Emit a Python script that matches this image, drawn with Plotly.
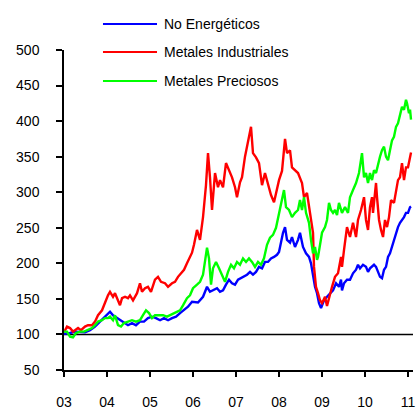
import plotly.graph_objects as go

# ---- data (decimal years) ----
red_t = [2003.000, 2003.070, 2003.140, 2003.209, 2003.256, 2003.326, 2003.395, 2003.488, 2003.558, 2003.651,
         2003.721, 2003.791, 2003.884, 2003.953, 2004.023, 2004.070, 2004.140, 2004.186, 2004.256, 2004.302,
         2004.349, 2004.419, 2004.488, 2004.535, 2004.605, 2004.698, 2004.767, 2004.814, 2004.884, 2004.953,
         2005.023, 2005.116, 2005.186, 2005.256, 2005.349, 2005.419, 2005.512, 2005.581, 2005.651, 2005.721,
         2005.791, 2005.860, 2005.930, 2005.977, 2006.023, 2006.093, 2006.163, 2006.233, 2006.302, 2006.349,
         2006.395, 2006.442, 2006.512, 2006.581, 2006.628, 2006.698, 2006.767, 2006.837, 2006.907, 2006.977,
         2007.023, 2007.093, 2007.140, 2007.209, 2007.279, 2007.349, 2007.395, 2007.465, 2007.535, 2007.605,
         2007.674, 2007.744, 2007.814, 2007.884, 2007.930, 2008.000, 2008.070, 2008.140, 2008.186, 2008.256,
         2008.302, 2008.372, 2008.442, 2008.535, 2008.581, 2008.651, 2008.698, 2008.744, 2008.791, 2008.814,
         2008.860, 2008.907, 2008.953, 2009.000, 2009.070, 2009.116, 2009.186, 2009.233, 2009.302, 2009.372,
         2009.442, 2009.465, 2009.512, 2009.581, 2009.651, 2009.721, 2009.791, 2009.837, 2009.907, 2009.977,
         2010.023, 2010.070, 2010.116, 2010.163, 2010.186, 2010.233, 2010.256, 2010.279, 2010.326, 2010.372,
         2010.419, 2010.465, 2010.512, 2010.558, 2010.605, 2010.674, 2010.721, 2010.767, 2010.814, 2010.860,
         2010.907, 2010.953, 2011.000, 2011.047, 2011.070]
red_v = [103, 111, 109, 104, 106, 109, 106, 111, 113, 113,
         118, 127, 134, 146, 155, 160, 153, 158, 146, 141,
         151, 153, 151, 155, 148, 158, 172, 160, 165, 167,
         160, 177, 181, 174, 172, 167, 172, 174, 181, 186,
         191, 200, 209, 215, 226, 247, 233, 265, 310, 355,
         321, 275, 327, 307, 317, 307, 341, 331, 321, 307,
         293, 314, 321, 350, 369, 392, 355, 349, 341, 310,
         327, 310, 296, 286, 299, 317, 330, 375, 355, 359,
         335, 331, 327, 313, 293, 299, 279, 261, 243, 195,
         167, 158, 148, 144, 153, 140, 158, 167, 181, 186,
         209, 195, 219, 251, 237, 257, 237, 261, 275, 293,
         261, 247, 279, 293, 271, 307, 313, 293, 261, 247,
         237, 261, 251, 265, 289, 285, 303, 317, 321, 341,
         317, 335, 335, 349, 356]

green_t = [2003.000, 2003.070, 2003.140, 2003.209, 2003.279, 2003.372, 2003.465, 2003.558, 2003.651, 2003.721,
           2003.791, 2003.884, 2003.953, 2004.023, 2004.070, 2004.140, 2004.186, 2004.256, 2004.326, 2004.395,
           2004.488, 2004.581, 2004.674, 2004.767, 2004.837, 2004.907, 2004.977, 2005.047, 2005.116, 2005.209,
           2005.302, 2005.395, 2005.465, 2005.535, 2005.605, 2005.698, 2005.767, 2005.860, 2005.930, 2006.000,
           2006.093, 2006.163, 2006.233, 2006.279, 2006.326, 2006.372, 2006.419, 2006.465, 2006.535, 2006.605,
           2006.674, 2006.744, 2006.814, 2006.884, 2006.953, 2007.023, 2007.093, 2007.163, 2007.233, 2007.302,
           2007.372, 2007.442, 2007.512, 2007.581, 2007.651, 2007.721, 2007.791, 2007.860, 2007.930, 2008.023,
           2008.093, 2008.116, 2008.163, 2008.233, 2008.302, 2008.372, 2008.442, 2008.488, 2008.535, 2008.581,
           2008.628, 2008.698, 2008.744, 2008.791, 2008.837, 2008.884, 2008.907, 2008.953, 2009.000, 2009.070,
           2009.116, 2009.163, 2009.209, 2009.256, 2009.302, 2009.349, 2009.395, 2009.465, 2009.535, 2009.605,
           2009.651, 2009.721, 2009.791, 2009.860, 2009.907, 2009.930, 2009.977, 2010.023, 2010.070, 2010.116,
           2010.163, 2010.209, 2010.256, 2010.302, 2010.349, 2010.395, 2010.442, 2010.488, 2010.535, 2010.581,
           2010.628, 2010.674, 2010.721, 2010.767, 2010.814, 2010.860, 2010.907, 2010.953, 2010.977, 2011.023,
           2011.047, 2011.070]
green_v = [104, 104, 97, 96, 102, 104, 104, 106, 109, 113,
           118, 120, 123, 123, 125, 120, 127, 113, 111, 116,
           118, 120, 118, 120, 127, 134, 130, 123, 127, 127,
           127, 125, 127, 130, 132, 134, 141, 151, 155, 165,
           170, 174, 184, 207, 222, 207, 170, 193, 202, 193,
           184, 174, 188, 198, 193, 202, 198, 207, 202, 207,
           202, 195, 202, 198, 207, 226, 236, 240, 250, 275,
           293, 303, 279, 275, 265, 271, 275, 289, 275, 293,
           271, 257, 233, 214, 223, 205, 209, 229, 243, 251,
           261, 285, 275, 271, 275, 268, 285, 271, 279, 271,
           293, 303, 313, 327, 350, 355, 321, 327, 313, 327,
           317, 331, 327, 341, 350, 359, 364, 350, 345, 359,
           373, 378, 392, 397, 411, 420, 416, 430, 425, 411,
           416, 402]

blue_t = [2003.000, 2003.140, 2003.256, 2003.372, 2003.488, 2003.605, 2003.721, 2003.837, 2003.953, 2004.023,
          2004.070, 2004.140, 2004.233, 2004.302, 2004.395, 2004.488, 2004.581, 2004.674, 2004.767, 2004.860,
          2004.953, 2005.047, 2005.140, 2005.233, 2005.326, 2005.419, 2005.512, 2005.605, 2005.698, 2005.791,
          2005.884, 2005.977, 2006.116, 2006.233, 2006.326, 2006.395, 2006.465, 2006.558, 2006.628, 2006.698,
          2006.767, 2006.837, 2006.907, 2006.977, 2007.047, 2007.116, 2007.186, 2007.256, 2007.326, 2007.395,
          2007.465, 2007.535, 2007.605, 2007.674, 2007.744, 2007.814, 2007.884, 2007.953, 2008.000, 2008.047,
          2008.093, 2008.140, 2008.186, 2008.256, 2008.302, 2008.372, 2008.442, 2008.488, 2008.558, 2008.628,
          2008.698, 2008.744, 2008.791, 2008.837, 2008.884, 2008.930, 2008.977, 2009.047, 2009.116, 2009.186,
          2009.256, 2009.326, 2009.395, 2009.442, 2009.465, 2009.512, 2009.581, 2009.651, 2009.721, 2009.791,
          2009.837, 2009.884, 2009.953, 2010.023, 2010.070, 2010.116, 2010.163, 2010.209, 2010.256, 2010.302,
          2010.349, 2010.395, 2010.442, 2010.488, 2010.535, 2010.581, 2010.628, 2010.674, 2010.721, 2010.767,
          2010.814, 2010.860, 2010.907, 2010.953, 2011.000, 2011.047, 2011.070]
blue_v = [101, 102, 104, 104, 103, 106, 111, 118, 125, 130,
          132, 127, 123, 120, 116, 113, 116, 113, 118, 118,
          123, 125, 123, 120, 123, 120, 123, 125, 130, 134,
          139, 146, 145, 153, 167, 160, 162, 165, 160, 162,
          170, 177, 172, 170, 177, 179, 181, 184, 188, 184,
          188, 195, 193, 202, 202, 207, 209, 212, 216, 229,
          243, 251, 233, 229, 237, 223, 233, 243, 223, 214,
          209, 200, 181, 167, 158, 144, 137, 148, 153, 158,
          162, 172, 167, 177, 162, 172, 177, 177, 186, 191,
          198, 193, 198, 195, 188, 193, 195, 198, 195, 188,
          181, 179, 191, 195, 209, 214, 223, 233, 243, 251,
          257, 261, 265, 271, 271, 279, 280]

series_names = ["No Energéticos", "Metales Industriales", "Metales Preciosos"]
series_colors = ["#0000FF", "#FF0000", "#00FF00"]

x_tick_vals = [2003, 2004, 2005, 2006, 2007, 2008, 2009, 2010, 2011]
x_tick_text = ["03", "04", "05", "06", "07", "08", "09", "10", "11"]
y_tick_vals = [50, 100, 150, 200, 250, 300, 350, 400, 450, 500]
baseline = 100

FONT = "Liberation Sans, Arial, sans-serif"

fig = go.Figure()
for t, v, name, col in [(blue_t, blue_v, series_names[0], series_colors[0]),
                        (red_t, red_v, series_names[1], series_colors[1]),
                        (green_t, green_v, series_names[2], series_colors[2])]:
    fig.add_trace(go.Scatter(x=t, y=v, mode="lines", name=name,
                             line=dict(color=col, width=2.4), showlegend=False))

# baseline at 100
fig.add_shape(type="line", xref="paper", x0=0, x1=1, yref="y", y0=baseline, y1=baseline,
              line=dict(color="black", width=1.5), layer="below")

# manual legend
leg_y = [1.08125, 0.99375, 0.903]
for name, col, yy in zip(series_names, series_colors, leg_y):
    fig.add_shape(type="line", xref="paper", yref="paper", x0=0.1117, x1=0.2665, y0=yy, y1=yy,
                  line=dict(color=col, width=2))
    fig.add_annotation(xref="paper", yref="paper", x=0.2808, y=yy, text=name, showarrow=False,
                       xanchor="left", yanchor="middle", font=dict(family=FONT, size=14, color="black"))

fig.update_layout(
    width=416, height=413,
    margin=dict(l=64, r=3, t=50, b=43, autoexpand=False),
    paper_bgcolor="white", plot_bgcolor="white",
    font=dict(family=FONT, size=14, color="black"),
    xaxis=dict(range=[2003, 2011.116], tickvals=x_tick_vals, ticktext=x_tick_text,
               showline=True, linecolor="black", linewidth=1.5, ticks="outside", ticklen=5,
               tickcolor="black", tickwidth=1.5, showgrid=False, zeroline=False, automargin=False,
               ticklabelstandoff=13, tickfont=dict(size=14)),
    yaxis=dict(range=[50, 500], tickvals=y_tick_vals,
               showline=True, linecolor="black", linewidth=1.5, ticks="outside", ticklen=6,
               tickcolor="black", tickwidth=1.5, showgrid=False, zeroline=False, automargin=False,
               ticklabelstandoff=14, tickfont=dict(size=14)),
)

# remove the default page margin so the figure fills the window exactly
fig.write_html("out.html", config={"displayModeBar": False},
               post_script="document.body.style.margin='0';document.body.style.overflow='hidden';")
